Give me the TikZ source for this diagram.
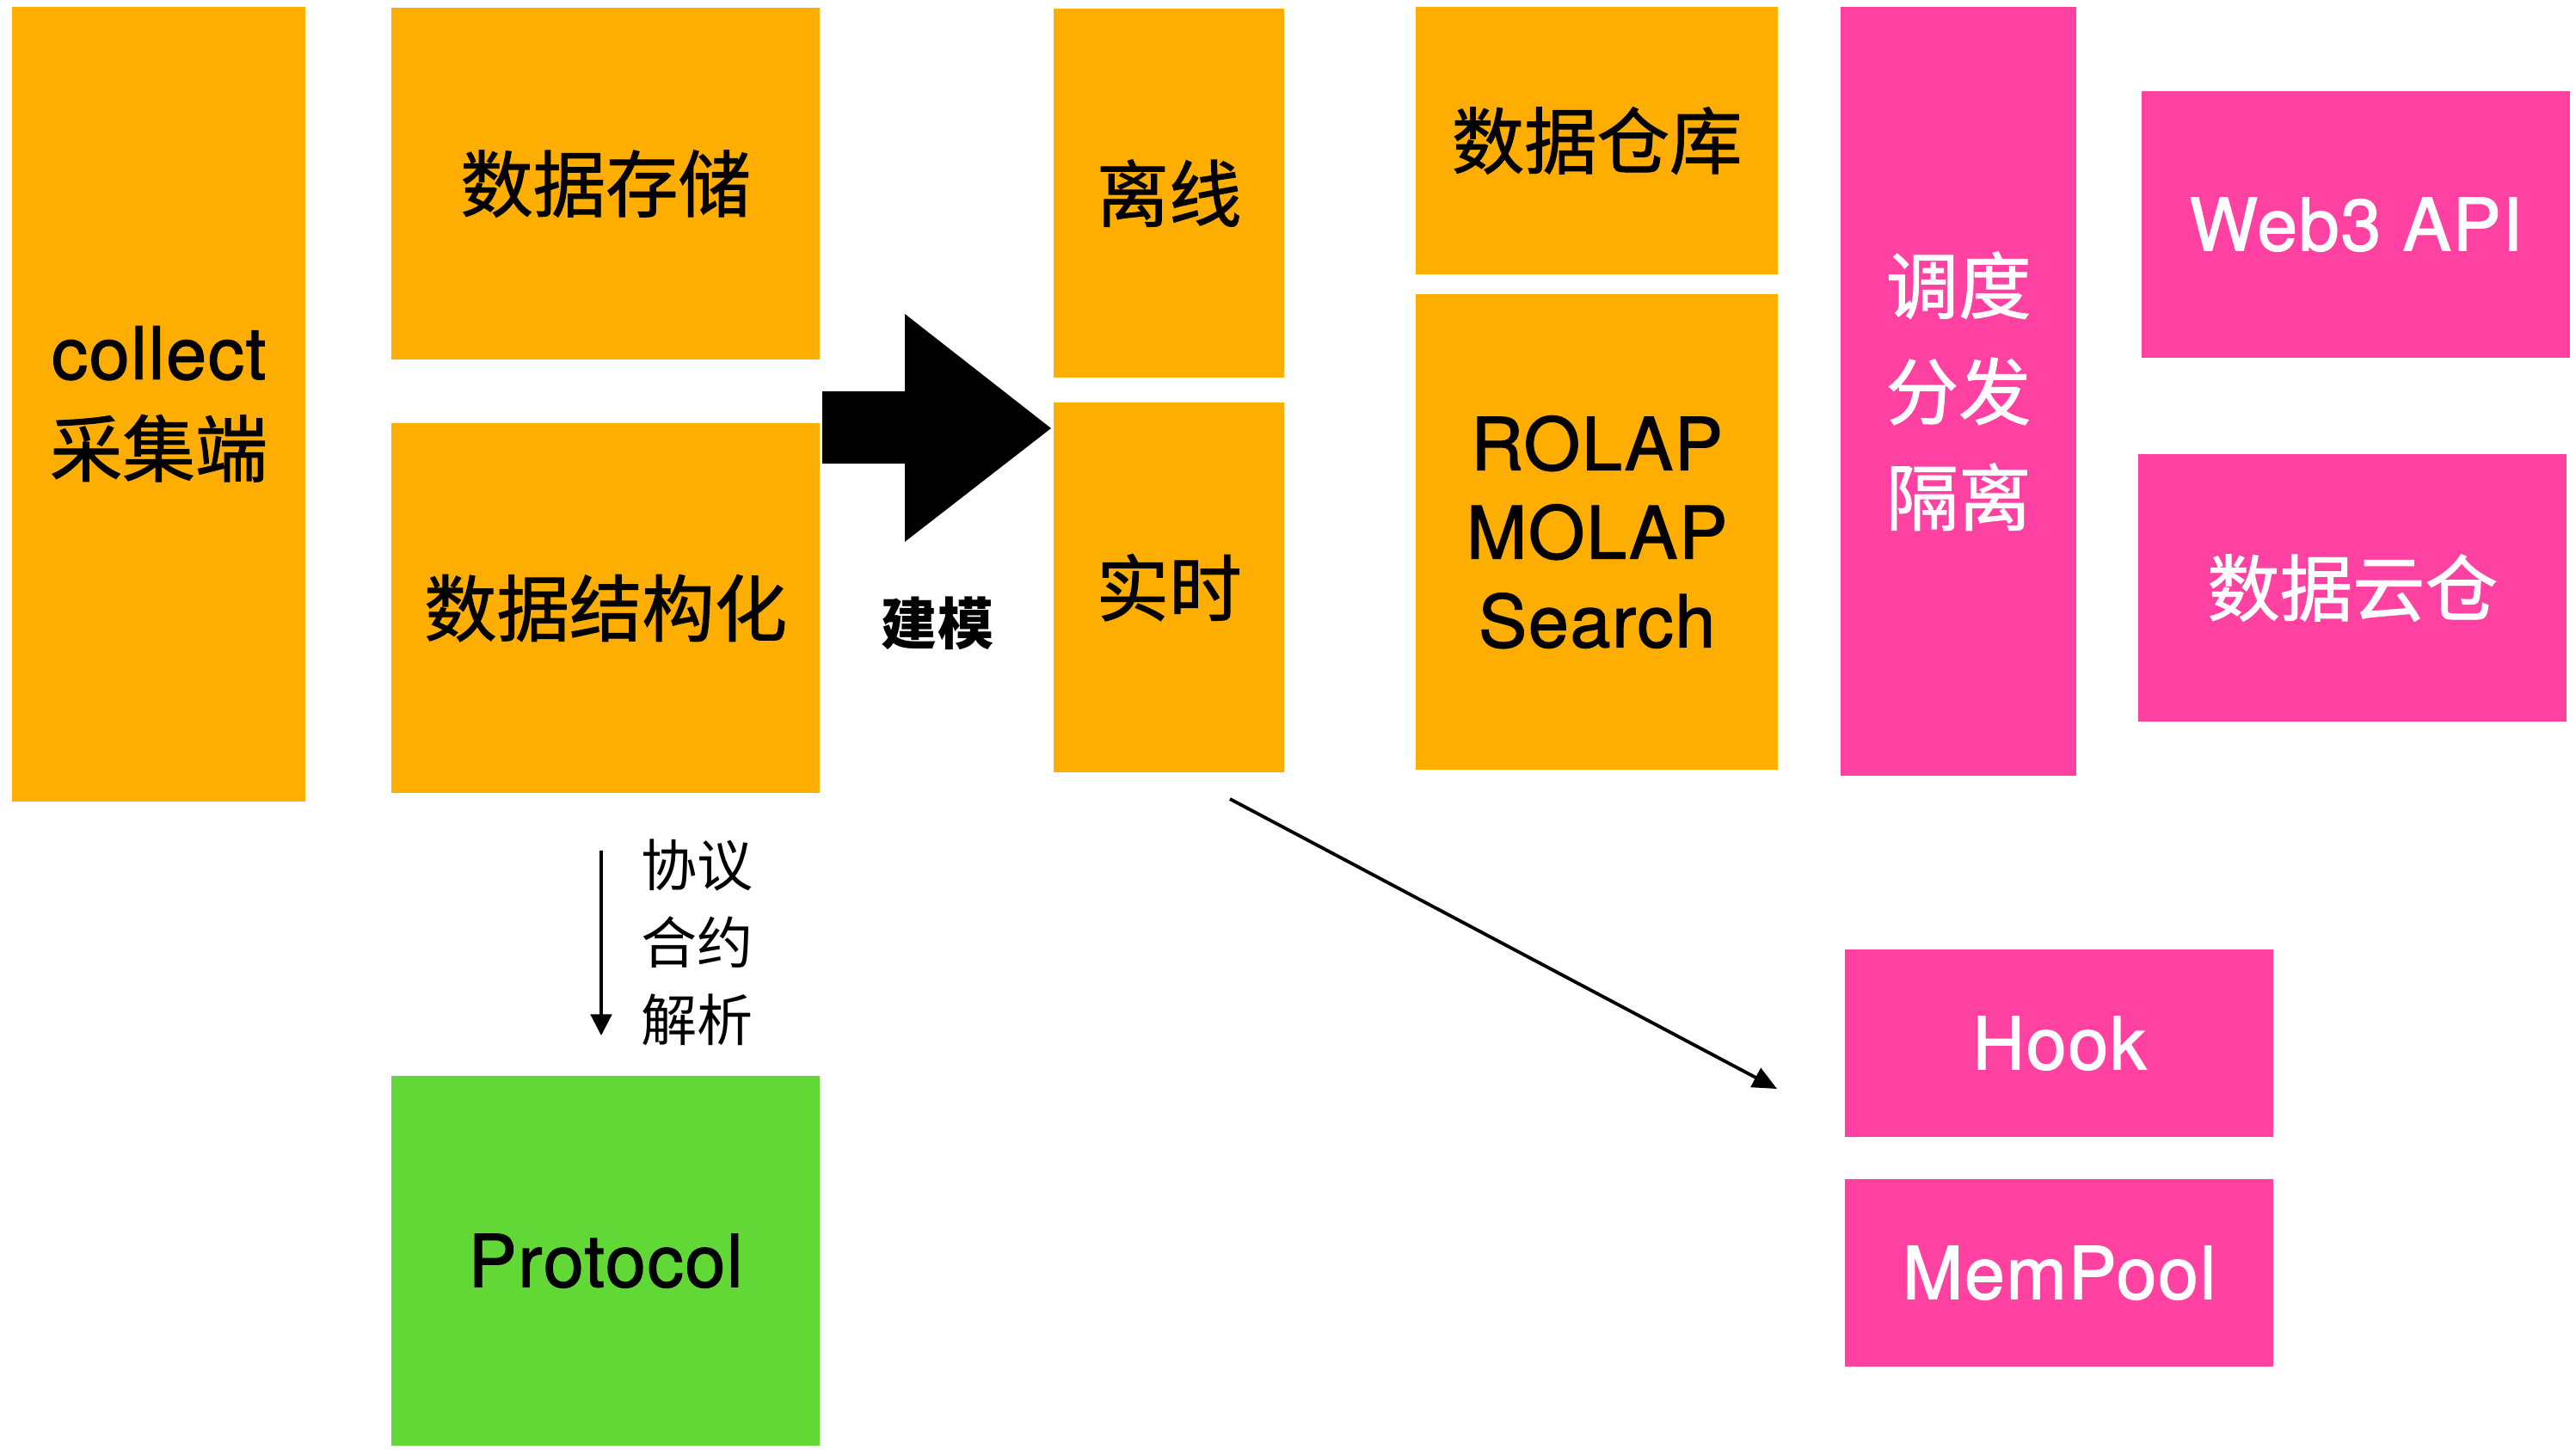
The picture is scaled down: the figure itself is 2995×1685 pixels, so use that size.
\documentclass[tikz,border=0pt]{standalone}
\usepackage{fontspec}
\setmainfont{TeX Gyre Heros}
\newfontfamily\lat{TeX Gyre Heros}[FakeBold=1.5, LetterSpace=2]
\newfontfamily\cjk{Noto Sans CJK SC}
\newfontfamily\cjkm{Noto Sans CJK SC}[FakeBold=1.2]
\usetikzlibrary{arrows.meta}
\definecolor{korange}{HTML}{FEAE00}
\definecolor{kpink}{HTML}{FF42A1}
\definecolor{kgreen}{HTML}{61D836}
\tikzset{
  blk/.style={inner sep=0pt, outer sep=0pt, anchor=north west, align=center,
    font=\fontsize{24}{32}\selectfont\lat},
  obox/.style={blk, fill=korange, text=black},
  pbox/.style={blk, fill=kpink, text=white},
  gbox/.style={blk, fill=kgreen, text=black},
  thinarrow/.style={line width=0.9pt, -{Triangle[length=7pt,width=7pt]}},
  diagarrow/.style={line width=1.1pt, -{Triangle[length=8pt,width=7pt]}},
  lbl/.style={inner sep=0pt, font=\fontsize{18.5}{25.6}\selectfont}
}
\begin{document}
\begin{tikzpicture}[x=0.01cm, y=-0.01cm]
\useasboundingbox (0,0) rectangle (2995,1685);
\node[obox, minimum width=3.41cm, minimum height=9.23cm] (collect) at (14,8) {collect\\\cjkm 采集端};
\node[obox, minimum width=4.98cm, minimum height=4.09cm] (store) at (455,9) {\cjkm 数据存储};
\node[obox, minimum width=4.98cm, minimum height=4.30cm] (struct) at (455,492) {\cjkm 数据结构化};
\node[obox, minimum width=2.68cm, minimum height=4.29cm] (offline) at (1225,10) {\cjkm 离线};
\node[obox, minimum width=2.68cm, minimum height=4.30cm] (realtime) at (1225,468) {\cjkm 实时};
\node[obox, minimum width=4.21cm, minimum height=3.11cm] (dw) at (1646,8) {\cjkm 数据仓库};
\node[obox, minimum width=4.21cm, minimum height=5.53cm, font=\fontsize{24}{29.3}\selectfont\lat] (olap) at (1646,342) {ROLAP\\MOLAP\\Search};
\node[pbox, minimum width=2.74cm, minimum height=8.93cm, font=\fontsize{24}{35}\selectfont] (sched) at (2140,8) {\cjkm 调度\\\cjkm 分发\\\cjkm 隔离};
\node[pbox, minimum width=4.98cm, minimum height=3.10cm] (web3) at (2490,106) {Web3 API};
\node[pbox, minimum width=4.98cm, minimum height=3.11cm] (cloud) at (2486,528) {\cjkm 数据云仓};
\node[pbox, minimum width=4.98cm, minimum height=2.18cm] (hook) at (2145,1104) {Hook};
\node[pbox, minimum width=4.98cm, minimum height=2.18cm] (mempool) at (2145,1371) {MemPool};
\node[gbox, minimum width=4.98cm, minimum height=4.30cm] (protocol) at (455,1251) {Protocol};
% big block arrow
\fill[black] (956,455) -- (1052,455) -- (1052,365) -- (1222,498) -- (1052,630) -- (1052,539) -- (956,539) -- cycle;
\node[lbl, font=\fontsize{18.5}{25.6}\selectfont\cjk\bfseries] (model) at (1090,725) {建模};
% down arrow
\coordinate (d1) at (699,989);
\coordinate (d2) at (699,1204);
\draw[thinarrow] (d1) -- (d2);
\node[lbl, anchor=west, align=left, font=\fontsize{18.5}{25.6}\selectfont\cjk] (parse) at (745,1096) {协议\\合约\\解析};
% diagonal arrow
\coordinate (a1) at (1430,929);
\coordinate (a2) at (2066,1266);
\draw[diagarrow] (a1) -- (a2);
\end{tikzpicture}
\end{document}
